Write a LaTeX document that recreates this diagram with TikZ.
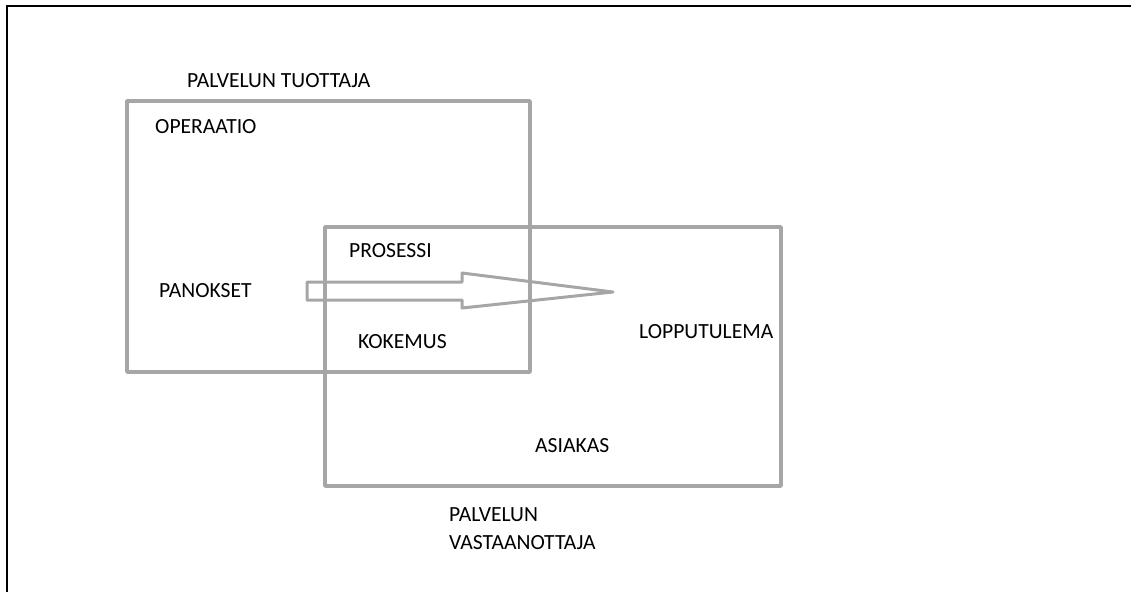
\documentclass[tikz,border=0pt]{standalone}
\usepackage{fontspec}
\setmainfont{Carlito}

\tikzset{
  box/.style={draw=gray!70, line width=3.5pt, line join=round},
  lbl/.style={inner sep=0pt, anchor=base west, font=\fontsize{21.6}{28}\selectfont},
}

\begin{document}
\begin{tikzpicture}[x=1pt, y=-1pt]
    \useasboundingbox (0,0) rectangle (1131,592);
    \draw[black, line width=2.5pt] (7,592) -- (7,6) -- (1131,6);
    % the two areas
    \draw[box] (127,101) rectangle (530,372);
    \draw[box] (325,227) rectangle (781,486);
    % the block arrow
    \draw[box, line width=3pt] (307,282) -- (462,282) -- (462,273) -- (613,292)
        -- (462,308) -- (462,300) -- (307,300) -- cycle;
    \node[lbl] (tuottaja) at (187,87) {PALVELUN TUOTTAJA};
    \node[lbl] (operaatio) at (155,133) {OPERAATIO};
    \node[lbl] (prosessi) at (349,257) {PROSESSI};
    \node[lbl] (panokset) at (159,297) {PANOKSET};
    \node[lbl] (kokemus) at (358,348) {KOKEMUS};
    \node[lbl] (lopputulema) at (639,338) {LOPPUTULEMA};
    \node[lbl] (asiakas) at (535,452) {ASIAKAS};
    \node[lbl, align=left] (vastaanottaja) at (449,549) {PALVELUN\\VASTAANOTTAJA};
\end{tikzpicture}
\end{document}
